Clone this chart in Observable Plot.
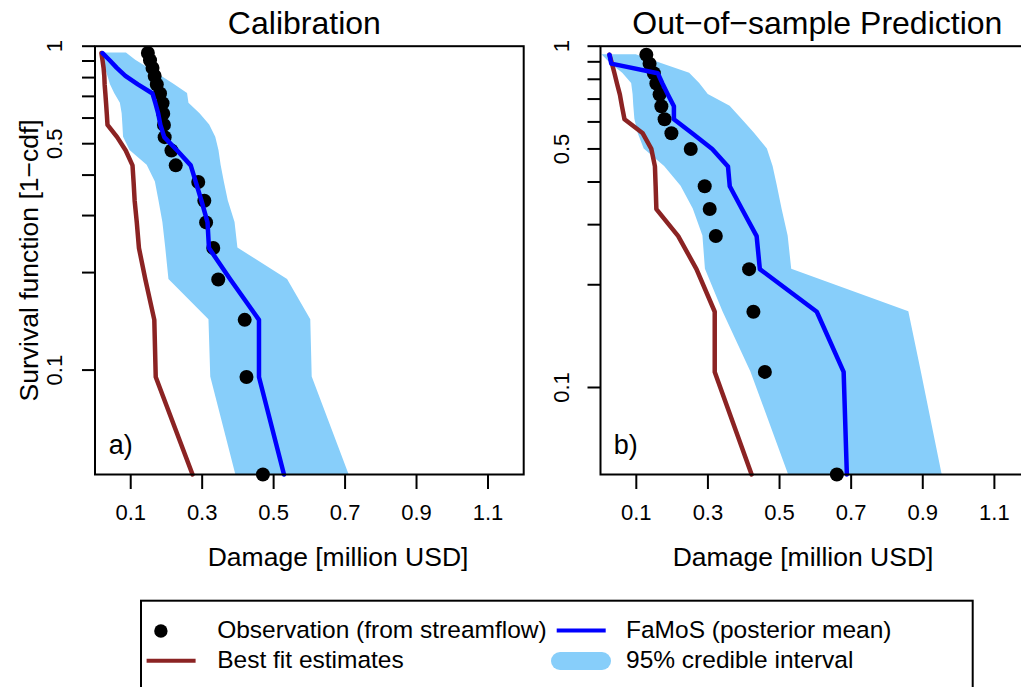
<!DOCTYPE html>
<html>
<head>
<meta charset="utf-8">
<script src="https://cdn.jsdelivr.net/npm/d3@7"></script>
<script src="https://cdn.jsdelivr.net/npm/@observablehq/plot@0.6"></script>
<style>
html, body { margin: 0; padding: 0; background: #fff; overflow: hidden; }
#wrap { position: relative; width: 1021px; height: 687px; overflow: hidden; background: #fff; }
#left, #right { position: absolute; top: 0; height: 600px; }
#left { left: 0; width: 540px; }
#right { left: 540px; width: 500px; }
#left svg, #right svg { max-width: none !important; }
#legend { position: absolute; left: 0; top: 0; }
</style>
</head>
<body>
<div id="wrap">
  <div id="left"></div>
  <div id="right"></div>
  <svg id="legend" width="1021" height="687" xmlns="http://www.w3.org/2000/svg"></svg>
</div>
<script>
const FONT = '"Liberation Sans", Arial, Helvetica, sans-serif';
const C_BAND = "#87CEFA", C_MEAN = "#0000FF", C_BEST = "#8B2323", C_OBS = "#000000";

// ---------- Axis ticks ----------
const xTicks = [0.1, 0.3, 0.5, 0.7, 0.9, 1.1];
const yTicks = [1, 0.9, 0.8, 0.7, 0.6, 0.5, 0.4, 0.3, 0.2, 0.1];
const yLabelVals = [1, 0.5, 0.1];
const yLabelText = ["1", "0.5", "0.1"];

// ---------- Panel a) Calibration ----------
const calY    = [0.9524, 0.9048, 0.8571, 0.8095, 0.7619, 0.7143, 0.6667, 0.6190, 0.5714, 0.5238,
                 0.4762, 0.4286, 0.3810, 0.3333, 0.2857, 0.2381, 0.1905, 0.1429, 0.0952, 0.0476];
const calObsX = [0.148, 0.154, 0.161, 0.167, 0.173, 0.182, 0.189, 0.191, 0.193, 0.195,
                 0.214, 0.226, 0.289, 0.306, 0.311, 0.331, 0.345, 0.419, 0.424, 0.470];
const calObsY = [0.9524, 0.9048, 0.8571, 0.8095, 0.7619, 0.7143, 0.6667, 0.6190, 0.5714, 0.5238,
                 0.4762, 0.4286, 0.3810, 0.3333, 0.2857, 0.2381, 0.1905, 0.1429, 0.0952, 0.0476];
const calMean = [0.021, 0.041, 0.061, 0.085, 0.120, 0.161, 0.169, 0.177, 0.183, 0.194,
                 0.230, 0.268, 0.282, 0.298, 0.315, 0.319, 0.379, 0.459, 0.459, 0.529];
const calBest = [0.018, 0.021, 0.024, 0.026, 0.027, 0.029, 0.031, 0.033, 0.035, 0.062,
                 0.086, 0.105, 0.108, 0.111, 0.117, 0.123, 0.141, 0.166, 0.170, 0.273];
const calLo   = [0.016, 0.022, 0.029, 0.036, 0.043, 0.055, 0.071, 0.076, 0.078, 0.080,
                 0.098, 0.146, 0.169, 0.179, 0.190, 0.198, 0.207, 0.319, 0.324, 0.394];
const calHi   = [0.088, 0.114, 0.149, 0.185, 0.222, 0.259, 0.263, 0.294, 0.321, 0.338,
                 0.347, 0.353, 0.362, 0.373, 0.392, 0.400, 0.539, 0.604, 0.608, 0.711];

// ---------- Panel b) Out-of-sample prediction ----------
const preY    = [0.9444, 0.8889, 0.8333, 0.7778, 0.7222, 0.6667, 0.6111, 0.5556, 0.5000,
                 0.4444, 0.3889, 0.3333, 0.2778, 0.2222, 0.1667, 0.1111, 0.0556];
const preObsX = [0.128, 0.137, 0.149, 0.156, 0.165, 0.170, 0.179, 0.198, 0.252,
                 0.291, 0.305, 0.322, 0.415, 0.427, 0.459, 0.660];
const preObsY = [0.9444, 0.8889, 0.8333, 0.7778, 0.7222, 0.6667, 0.6111, 0.5556, 0.5000,
                 0.3889, 0.3333, 0.2778, 0.2222, 0.1667, 0.1111, 0.0556];
const preMean = [0.025, 0.030, 0.160, 0.173, 0.188, 0.205, 0.205, 0.256, 0.312,
                 0.356, 0.361, 0.395, 0.436, 0.445, 0.604, 0.679, 0.688];
const preBest = [0.025, 0.032, 0.039, 0.046, 0.054, 0.060, 0.067, 0.118, 0.142,
                 0.152, 0.154, 0.156, 0.217, 0.268, 0.319, 0.319, 0.422];
const preLo   = [0.004, 0.029, 0.062, 0.087, 0.091, 0.093, 0.096, 0.105, 0.122,
                 0.179, 0.225, 0.259, 0.286, 0.293, 0.342, 0.420, 0.525];
const preHi   = [0.100, 0.172, 0.249, 0.277, 0.301, 0.362, 0.395, 0.430, 0.466,
                 0.482, 0.494, 0.507, 0.524, 0.534, 0.861, 0.896, 0.954];

const xTitle = "Damage [million USD]";
const yTitle = "Survival function [1\u2212cdf]";

function panel(o) {
  const rows = o.y.map((y, i) => ({y, lo: o.lo[i], hi: o.hi[i], mean: o.mean[i], best: o.best[i]}));
  const obs = o.obsX.map((x, i) => ({x, y: o.obsY[i]}));
  const marks = [
    Plot.areaX(rows, {y: "y", x1: "lo", x2: "hi", fill: C_BAND, curve: "linear"}),
    Plot.line(rows, {x: "best", y: "y", stroke: C_BEST, strokeWidth: 4.5, strokeLinejoin: "round", strokeLinecap: "round"}),
    Plot.dot(obs, {x: "x", y: "y", r: 7, fill: C_OBS}),
    Plot.line(rows, {x: "mean", y: "y", stroke: C_MEAN, strokeWidth: 4.5, strokeLinejoin: "round", strokeLinecap: "round"}),
    Plot.frame({stroke: "black", strokeWidth: 2}),
    Plot.axisX({ticks: xTicks, tickSize: 15, tickPadding: 15, fontSize: 22, strokeWidth: 2, label: null, tickFormat: d => String(d)}),
    Plot.axisY({ticks: yTicks, tickSize: 12.5, strokeWidth: 2, label: null, tickFormat: () => ""}),
    Plot.text(yLabelVals, {y: d => d, text: (d, i) => yLabelText[i], frameAnchor: "left", dx: o.ylabDx, rotate: -90,
      textAnchor: "middle", lineAnchor: "middle", fontSize: 22}),
    Plot.text([o.title], {frameAnchor: "top", dx: o.titleDx, dy: -12.4, lineAnchor: "bottom", fontSize: 32}),
    Plot.text([xTitle], {frameAnchor: "bottom", dx: o.xtDx, dy: 91, lineAnchor: "bottom", fontSize: 26.5}),
    Plot.text([o.tag], {frameAnchor: "bottom-left", dx: o.tagDx, dy: -20.7, textAnchor: "start", lineAnchor: "bottom", fontSize: 27})
  ];
  if (o.yTitle) marks.push(Plot.text([o.yTitle], {frameAnchor: "left", dx: -65.5, rotate: -90, textAnchor: "middle", lineAnchor: "middle", fontSize: 26.5}));
  return Plot.plot({
    width: o.width, height: 600,
    marginLeft: o.ml, marginRight: o.mr, marginTop: 45.7, marginBottom: 126,
    style: {fontFamily: FONT, background: "transparent", overflow: "visible", color: "black", maxWidth: "none"},
    x: {domain: [0, 1.2]},
    y: {type: "log", domain: [o.ymin, 1]},
    marks
  });
}

document.getElementById("left").appendChild(panel({
  width: 540, ml: 94.5, mr: 16.8, ymin: 0.0476,
  y: calY, lo: calLo, hi: calHi, mean: calMean, best: calBest, obsX: calObsX, obsY: calObsY,
  title: "Calibration", titleDx: -5, xtDx: 28.7, tag: "a)", tagDx: 13.8, ylabDx: -40, yTitle
}));
document.getElementById("right").appendChild(panel({
  width: 500, ml: 60, mr: 10.3, ymin: 0.0556,
  y: preY, lo: preLo, hi: preHi, mean: preMean, best: preBest, obsX: preObsX, obsY: preObsY,
  title: "Out\u2212of\u2212sample Prediction", titleDx: 2, xtDx: -12.3, tag: "b)", tagDx: 13.3, ylabDx: -38.5, yTitle: null
}));

// ---------- Legend ----------
const legendItems = [
  {label: "Observation (from streamflow)", kind: "dot", color: C_OBS},
  {label: "FaMoS (posterior mean)", kind: "line", color: C_MEAN},
  {label: "Best fit estimates", kind: "line", color: C_BEST},
  {label: "95% credible interval", kind: "pill", color: C_BAND}
];
(function drawLegend() {
  const svg = d3.select("#legend");
  svg.append("rect").attr("x", 141).attr("y", 600.7).attr("width", 831.7).attr("height", 120)
    .attr("fill", "none").attr("stroke", "black").attr("stroke-width", 2);
  const slots = [
    {sx: 160.9, sy: 631, tx: 217.2, ty: 638.3},
    {sx: 581.2, sy: 630.5, tx: 626, ty: 638.3},
    {sx: 171.1, sy: 660.7, tx: 217.2, ty: 667.8},
    {sx: 581, sy: 661, tx: 626, ty: 667.8}
  ];
  legendItems.forEach((it, i) => {
    const s = slots[i];
    if (it.kind === "dot") {
      svg.append("circle").attr("cx", s.sx).attr("cy", s.sy).attr("r", 6.7).attr("fill", it.color);
    } else if (it.kind === "line") {
      svg.append("line").attr("x1", s.sx - 24.5).attr("x2", s.sx + 24.5).attr("y1", s.sy).attr("y2", s.sy)
        .attr("stroke", it.color).attr("stroke-width", 4);
    } else {
      svg.append("line").attr("x1", s.sx - 21).attr("x2", s.sx + 21).attr("y1", s.sy).attr("y2", s.sy)
        .attr("stroke", it.color).attr("stroke-width", 18).attr("stroke-linecap", "round");
    }
    svg.append("text").attr("x", s.tx).attr("y", s.ty).attr("font-size", 24.5)
      .attr("font-family", FONT).attr("fill", "black").text(it.label);
  });
})();
</script>
</body>
</html>
